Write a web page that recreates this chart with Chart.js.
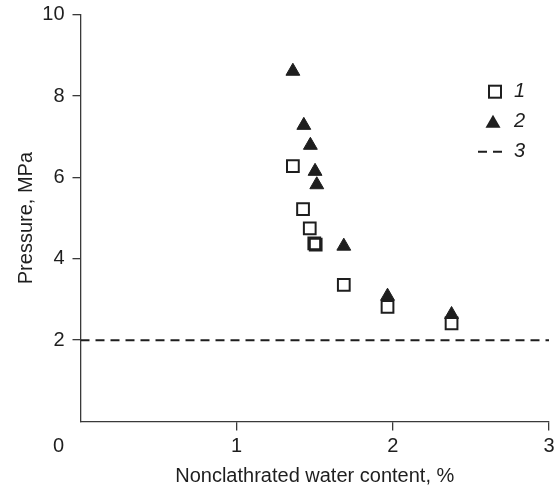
<!DOCTYPE html>
<html>
<head>
<meta charset="utf-8">
<script src="https://cdn.jsdelivr.net/npm/chart.js@4.4.1/dist/chart.umd.min.js"></script>
<style>
    html, body { margin: 0; padding: 0; background: #fff; }
    #wrap { width: 560px; height: 491px; }
</style>
</head>
<body>
<div id="wrap"><canvas id="chart"></canvas></div>
<script>
(function () {
    'use strict';

    // Data
    var SERIES_LABELS = ['1', '2', '3'];
    var S1_X = [1.36, 1.425, 1.468, 1.497, 1.506, 1.686, 1.966, 2.376];
    var S1_Y = [6.28, 5.22, 4.75, 4.38, 4.35, 3.36, 2.82, 2.41];
    var S2_X = [1.36, 1.43, 1.472, 1.502, 1.513, 1.686, 1.966, 2.376];
    var S2_Y = [8.61, 7.28, 6.79, 6.15, 5.82, 4.31, 3.08, 2.63];
    var LINE3_X = [0, 3];
    var LINE3_Y = [2, 2];
    var X_TICKS = [0, 1, 2, 3];
    var Y_TICKS = [0, 2, 4, 6, 8, 10];

    var INK = '#1e1e1e';
    var AXIS = '#3a3a3a';
    var FONT = "'Liberation Sans', Arial, Helvetica, sans-serif";

    function toPoints(xs, ys) {
        return xs.map(function (x, i) { return { x: x, y: ys[i] }; });
    }

    function hideZero(ctx) {
        return ctx.tick && ctx.tick.value === 0 ? 'rgba(0,0,0,0)' : AXIS;
    }

    // ── Legend on the right, inside the plot ─────────────────
    var sideLegend = {
        id: 'sideLegend',
        afterDraw: function (chart) {
            var ctx = chart.ctx, a = chart.chartArea;
            var xm = a.right - 54, y0 = a.top + 77;
            ctx.save();
            chart.data.datasets.forEach(function (ds, i) {
                var y = y0 + i * 30;
                ctx.strokeStyle = INK;
                ctx.fillStyle = INK;
                if (ds.pointStyle === 'rect') {
                    ctx.lineWidth = 2;
                    ctx.strokeRect(xm - 6, y - 6, 12, 12);
                } else if (ds.pointStyle === 'triangle') {
                    ctx.beginPath();
                    ctx.moveTo(xm - 2, y - 7);
                    ctx.lineTo(xm + 5.5, y + 6);
                    ctx.lineTo(xm - 9.5, y + 6);
                    ctx.closePath();
                    ctx.fill();
                } else {
                    ctx.lineWidth = 2;
                    ctx.setLineDash([9, 6]);
                    ctx.beginPath();
                    ctx.moveTo(xm - 17, y);
                    ctx.lineTo(xm + 9, y);
                    ctx.stroke();
                    ctx.setLineDash([]);
                }
                ctx.font = 'italic 20px ' + FONT;
                ctx.textAlign = 'left';
                ctx.textBaseline = 'middle';
                ctx.fillText(ds.label, xm + 19, y);
            });
            // shared origin label, set left of the corner
            ctx.font = '20px ' + FONT;
            ctx.textAlign = 'center';
            ctx.fillStyle = INK;
            ctx.fillText('0', a.left - 22, a.bottom + 25);
            ctx.restore();
        }
    };

    new Chart(document.getElementById('chart'), {
        type: 'scatter',
        data: {
            datasets: [{
                label: SERIES_LABELS[0],
                data: toPoints(S1_X, S1_Y),
                pointStyle: 'rect',
                pointRadius: 8.3,
                pointBorderWidth: 2,
                pointBorderColor: INK,
                pointBackgroundColor: 'rgba(0,0,0,0)',
                showLine: false
            }, {
                label: SERIES_LABELS[1],
                data: toPoints(S2_X, S2_Y),
                pointStyle: 'triangle',
                pointRadius: 8,
                pointBorderWidth: 1,
                pointBorderColor: INK,
                pointBackgroundColor: INK,
                showLine: false
            }, {
                label: SERIES_LABELS[2],
                data: toPoints(LINE3_X, LINE3_Y),
                showLine: true,
                borderColor: INK,
                borderWidth: 2,
                borderDash: [9, 6],
                pointRadius: 0,
                fill: false
            }]
        },
        options: {
            responsive: true,
            maintainAspectRatio: false,
            animation: false,
            layout: { padding: { top: 14.7, right: 11, left: 0, bottom: 0 } },
            plugins: {
                legend: { display: false },
                tooltip: { enabled: false }
            },
            scales: {
                x: {
                    type: 'linear',
                    min: X_TICKS[0],
                    max: X_TICKS[X_TICKS.length - 1],
                    afterBuildTicks: function (s) {
                        s.ticks = X_TICKS.map(function (v) { return { value: v }; });
                    },
                    afterFit: function (s) {
                        s.height = 69.5;
                        s.paddingLeft = 0;
                        s.paddingRight = 0;
                    },
                    border: { display: true, color: AXIS, width: 1.3 },
                    grid: { drawOnChartArea: false, drawTicks: true, tickLength: 9, color: hideZero, lineWidth: 1.3 },
                    ticks: {
                        color: INK,
                        padding: 4,
                        maxRotation: 0,
                        font: { family: FONT, size: 20 },
                        callback: function (v) { return v === 0 ? '' : v; }
                    },
                    title: {
                        display: true,
                        text: 'Nonclathrated water content, %',
                        color: INK,
                        font: { family: FONT, size: 20 },
                        padding: { top: 0, bottom: 3 }
                    }
                },
                y: {
                    min: Y_TICKS[0],
                    max: Y_TICKS[Y_TICKS.length - 1],
                    afterBuildTicks: function (s) {
                        s.ticks = Y_TICKS.map(function (v) { return { value: v }; });
                    },
                    afterFit: function (s) {
                        s.width = 80.5;
                        s.paddingTop = 0;
                        s.paddingBottom = 0;
                    },
                    border: { display: true, color: AXIS, width: 1.3 },
                    grid: { drawOnChartArea: false, drawTicks: true, tickLength: 8, color: hideZero, lineWidth: 1.3 },
                    ticks: {
                        color: INK,
                        padding: 8,
                        font: { family: FONT, size: 20 },
                        callback: function (v) { return v === 0 ? '' : v; }
                    },
                    title: {
                        display: true,
                        text: 'Pressure, MPa',
                        color: INK,
                        font: { family: FONT, size: 20 },
                        padding: { top: 14, bottom: 0 }
                    }
                }
            }
        },
        plugins: [sideLegend]
    });
})();
</script>
</body>
</html>
